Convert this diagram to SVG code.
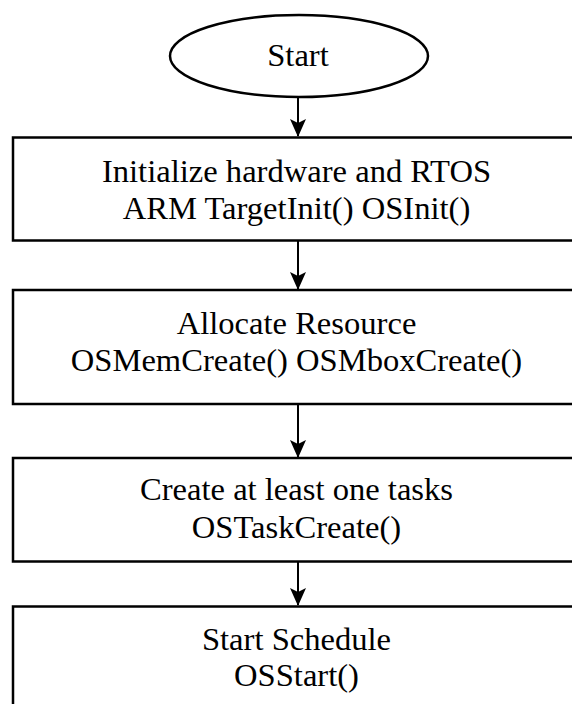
<svg xmlns="http://www.w3.org/2000/svg" width="572" height="704" viewBox="0 0 572 704">
<style>
.shape{fill:#fff;stroke:#000;stroke-width:2.5}
.lbl{font-family:"Liberation Serif","Times New Roman",serif;font-size:32.6px;fill:#000;text-anchor:middle}
.conn{stroke:#000;stroke-width:2;fill:none}
</style>
<defs>
<marker id="ah" markerUnits="userSpaceOnUse" markerWidth="18" markerHeight="22" refX="17" refY="9" orient="auto" viewBox="0 0 18 18">
<path d="M0,1 L18,9 L0,17 L4,9 Z" fill="#000"/>
</marker>
</defs>
<rect width="572" height="704" fill="#fff"/>
<g id="connectors">
<line class="conn" x1="298" y1="97" x2="298" y2="136" marker-end="url(#ah)"/>
<line class="conn" x1="298" y1="241" x2="298" y2="289" marker-end="url(#ah)"/>
<line class="conn" x1="298" y1="404" x2="298" y2="457" marker-end="url(#ah)"/>
<line class="conn" x1="298" y1="562" x2="298" y2="605" marker-end="url(#ah)"/>
</g>
<g id="start">
<ellipse class="shape" cx="299" cy="56" rx="129" ry="41"/>
<text class="lbl" x="298" y="66">Start</text>
</g>
<g id="init">
<rect class="shape" x="13" y="137.5" width="580" height="103"/>
<text class="lbl" x="296.5" y="182">Initialize hardware and RTOS</text>
<text class="lbl" x="296.5" y="218.5">ARM TargetInit() OSInit()</text>
</g>
<g id="alloc">
<rect class="shape" x="13" y="290" width="580" height="114"/>
<text class="lbl" x="296.5" y="333.5">Allocate Resource</text>
<text class="lbl" x="296.5" y="371">OSMemCreate() OSMboxCreate()</text>
</g>
<g id="tasks">
<rect class="shape" x="13" y="458" width="580" height="103.5"/>
<text class="lbl" x="296.5" y="500">Create at least one tasks</text>
<text class="lbl" x="296.5" y="538">OSTaskCreate()</text>
</g>
<g id="schedule">
<rect class="shape" x="13" y="606.5" width="580" height="120"/>
<text class="lbl" x="296.5" y="650">Start Schedule</text>
<text class="lbl" x="296.5" y="686">OSStart()</text>
</g>
</svg>
